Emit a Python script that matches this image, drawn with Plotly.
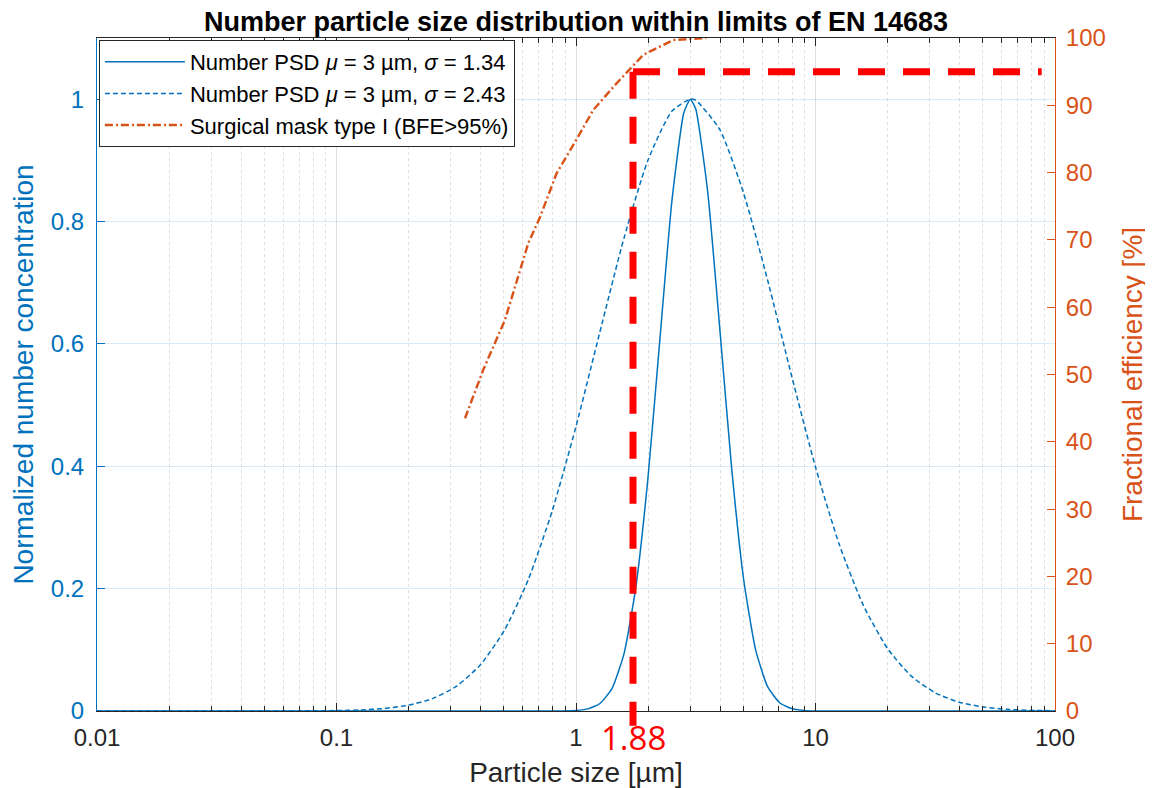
import math
import plotly.graph_objects as go

# ---------------- data ----------------
size_narrow = [0.01, 0.1, 0.5, 0.9, 1.0, 1.122, 1.259, 1.413, 1.585, 1.778, 1.995, 2.239,
               2.512, 2.818, 3.0, 3.162, 3.548, 3.981, 4.467, 5.012, 5.623, 6.31, 7.079,
               7.943, 8.913, 10.0, 20.0, 100.0]
conc_narrow = [0, 0, 0, 0, 0.0009, 0.0035, 0.0123, 0.0365, 0.0929, 0.2026, 0.3787, 0.6065,
               0.8319, 0.9775, 1.0, 0.9839, 0.8484, 0.6267, 0.3965, 0.2149, 0.0998, 0.0397,
               0.0135, 0.0040, 0.0010, 0.0002, 0, 0]

size_wide = [0.01, 0.0631, 0.1, 0.1259, 0.1585, 0.1995, 0.2512, 0.3162, 0.3981, 0.5012,
             0.631, 0.7943, 1.0, 1.259, 1.585, 1.995, 2.512, 3.0, 3.162, 3.981,
             5.012, 6.31, 7.943, 10.0, 12.59, 15.85, 19.95, 25.12, 31.62, 39.81,
             50.12, 63.1, 79.43, 100.0]
conc_wide = [0, 0.0001, 0.0007, 0.0017, 0.0042, 0.0095, 0.0202, 0.0403, 0.0752, 0.1312,
             0.2140, 0.3263, 0.4651, 0.6199, 0.7724, 0.8999, 0.9802, 1.0, 0.9982, 0.9505,
             0.8462, 0.7043, 0.5481, 0.3988, 0.2713, 0.1725, 0.1026, 0.0570, 0.0297, 0.0144,
             0.0066, 0.0028, 0.0011, 0.0004]

size_mask = [0.344, 0.41, 0.505, 0.632, 0.708, 0.83, 1.0, 1.18, 1.48, 1.91, 2.55, 3.5]
eff_mask = [43.5, 50.7, 58.1, 69.5, 73.4, 79.9, 84.8, 89.3, 93.3, 97.5, 99.7, 100]

series_names = [
    "Number PSD <i>μ</i> = 3 µm, <i>σ</i> = 1.34",
    "Number PSD <i>μ</i> = 3 µm, <i>σ</i> = 2.43",
    "Surgical mask type I (BFE>95%)",
]

x_tick_vals = [0.01, 0.1, 1, 10, 100]
x_tick_text = ["0.01", "0.1", "1", "10", "100"]
y_tick_vals = [0, 0.2, 0.4, 0.6, 0.8, 1]
y_tick_text = ["0", "0.2", "0.4", "0.6", "0.8", "1"]
y2_tick_vals = [0, 10, 20, 30, 40, 50, 60, 70, 80, 90, 100]

cutoff_line_size = 1.73      # where the red marker line sits on the axis
cutoff_label = "1.88"
bfe_limit = 95
red_line_end_size = 88

y_range = [0, 1.1]
y2_range = [0, 100]

# ---------------- styling ----------------
BLUE = "#0072BD"
ORANGE = "#D95319"
DARK = "#262626"
FONT = "Liberation Sans, Arial, Helvetica, sans-serif"

fig = go.Figure()
fig.add_trace(go.Scatter(x=size_narrow, y=conc_narrow, mode="lines", name=series_names[0],
                         line=dict(color=BLUE, width=1.5, shape="spline", smoothing=0.5),
                         yaxis="y"))
fig.add_trace(go.Scatter(x=size_wide, y=conc_wide, mode="lines", name=series_names[1],
                         line=dict(color=BLUE, width=1.5, dash="5px,3px", shape="spline",
                                   smoothing=0.6), yaxis="y"))
fig.add_trace(go.Scatter(x=size_mask, y=eff_mask, mode="lines", name=series_names[2],
                         line=dict(color=ORANGE, width=2.4, dash="8px,3px,2px,3px"),
                         yaxis="y2"))

minor_vals = [m * 10 ** e for e in range(-2, 2) for m in range(2, 10)]

# the page body adds an 8 px offset, so the figure is 8 px smaller on each axis
W, H = 1145, 780
fig.update_layout(
    width=W, height=H,
    margin=dict(l=89, r=98, t=30, b=77, autoexpand=False),
    paper_bgcolor="white", plot_bgcolor="white",
    font=dict(family=FONT, color=DARK, size=24),
    title=dict(text="<b>Number particle size distribution within limits of EN 14683</b>",
               x=0.5, xref="paper", xanchor="center", y=1 - 14 / H, yref="container",
               yanchor="middle", font=dict(size=27, color="black", family=FONT)),
    xaxis=dict(
        type="log", range=[-2, 2], automargin=False,
        tickmode="array", tickvals=x_tick_vals, ticktext=x_tick_text,
        ticks="inside", ticklen=8, tickcolor=DARK, tickwidth=1, ticklabelstandoff=5,
        showline=True, linecolor=DARK, linewidth=1, mirror="ticks",
        showgrid=True, gridcolor="rgba(0,0,0,0.13)", gridwidth=1,
        zeroline=False,
        tickfont=dict(size=24, color=DARK),
        minor=dict(tickmode="array", tickvals=minor_vals, ticks="inside", ticklen=5,
                   tickcolor=DARK, showgrid=True, gridcolor="rgba(0,0,0,0.13)",
                   griddash="dot", gridwidth=1),
        title=dict(text="Particle size [µm]", font=dict(size=28, color=DARK), standoff=13),
    ),
    yaxis=dict(
        range=y_range, tickmode="array", tickvals=y_tick_vals, ticktext=y_tick_text,
        automargin=False,
        ticks="inside", ticklen=8, tickcolor=BLUE, ticklabelstandoff=7,
        showline=True, linecolor=BLUE, linewidth=1, mirror=False,
        showgrid=True, gridcolor="rgba(0,114,189,0.14)", zeroline=False,
        tickfont=dict(size=24, color=BLUE),
        title=dict(text="Normalized number concentration", font=dict(size=28, color=BLUE),
                   standoff=10),
    ),
    yaxis2=dict(
        range=y2_range, tickmode="array", tickvals=y2_tick_vals, automargin=False,
        overlaying="y", side="right",
        ticks="inside", ticklen=8, tickcolor=ORANGE, ticklabelstandoff=5,
        showline=True, linecolor=ORANGE, linewidth=1,
        showgrid=False, zeroline=False,
        tickfont=dict(size=24, color=ORANGE),
        title=dict(text="Fractional efficiency [%]", font=dict(size=28, color=ORANGE),
                   standoff=17),
    ),
    legend=dict(
        x=0.002, y=0.997, xanchor="left", yanchor="top",
        bgcolor="white", bordercolor=DARK, borderwidth=1,
        font=dict(size=22, color="black", family=FONT),
        itemwidth=80, tracegroupgap=0,
    ),
    showlegend=True,
)

# red marker lines (drawn over the plot)
bfe_paper = (bfe_limit - y2_range[0]) / (y2_range[1] - y2_range[0])
fig.add_shape(type="line", xref="x", yref="paper",
              x0=cutoff_line_size, x1=cutoff_line_size, y0=bfe_paper, y1=-0.022,
              line=dict(color="#FF0000", width=7, dash="27px,18px"), layer="above")
fig.add_shape(type="line", xref="x", yref="y2",
              x0=cutoff_line_size, x1=red_line_end_size, y0=bfe_limit, y1=bfe_limit,
              line=dict(color="#FF0000", width=7, dash="27px,18px"), layer="above")

fig.add_annotation(x=math.log10(cutoff_line_size), xref="x", y=0, yref="paper",
                   text=cutoff_label, showarrow=False, xanchor="center", yanchor="middle",
                   yshift=-26,
                   font=dict(size=33, color="#FF0000", family="Open Sans, Noto Sans, sans-serif"),
                   bgcolor="rgba(0,0,0,0)")

fig.write_html("out.html")
